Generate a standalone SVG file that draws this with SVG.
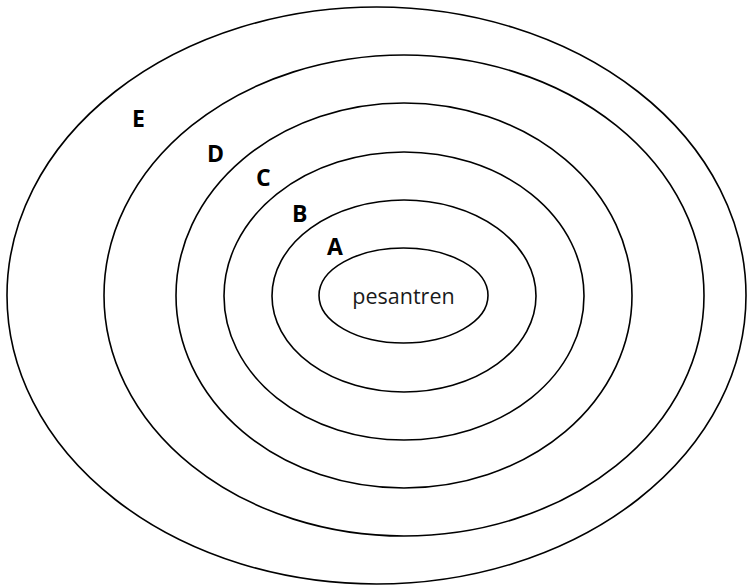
<svg xmlns="http://www.w3.org/2000/svg" width="747" height="585" viewBox="0 0 747 585">
<style>
.ring{fill:none;stroke:#000;stroke-width:1.6}
.lbl{font-family:"Open Sans","Liberation Sans",sans-serif;font-weight:bold;font-size:23px;fill:#000}
.core{font-family:"Open Sans","Liberation Sans",sans-serif;font-size:21.5px;fill:#1a1a1a;text-anchor:middle}
</style>
<rect width="747" height="585" fill="#fff"/>
<g id="ring-E"><ellipse class="ring" cx="376.5" cy="295.5" rx="369.5" ry="288.5"/><text class="lbl" x="132" y="127">E</text></g>
<g id="ring-D"><ellipse class="ring" cx="404" cy="295.5" rx="300" ry="240.5"/><text class="lbl" x="207" y="162">D</text></g>
<g id="ring-C"><ellipse class="ring" cx="404" cy="295.5" rx="228" ry="192.5"/><text class="lbl" x="256" y="186">C</text></g>
<g id="ring-B"><ellipse class="ring" cx="404" cy="296" rx="180" ry="144"/><text class="lbl" x="292" y="222">B</text></g>
<g id="ring-A"><ellipse class="ring" cx="404" cy="296" rx="132" ry="96"/><text class="lbl" x="327" y="255">A</text></g>
<g id="pesantren"><ellipse class="ring" cx="403.5" cy="295.5" rx="84.5" ry="47.5"/><text class="core" x="403.5" y="304">pesantren</text></g>
</svg>
